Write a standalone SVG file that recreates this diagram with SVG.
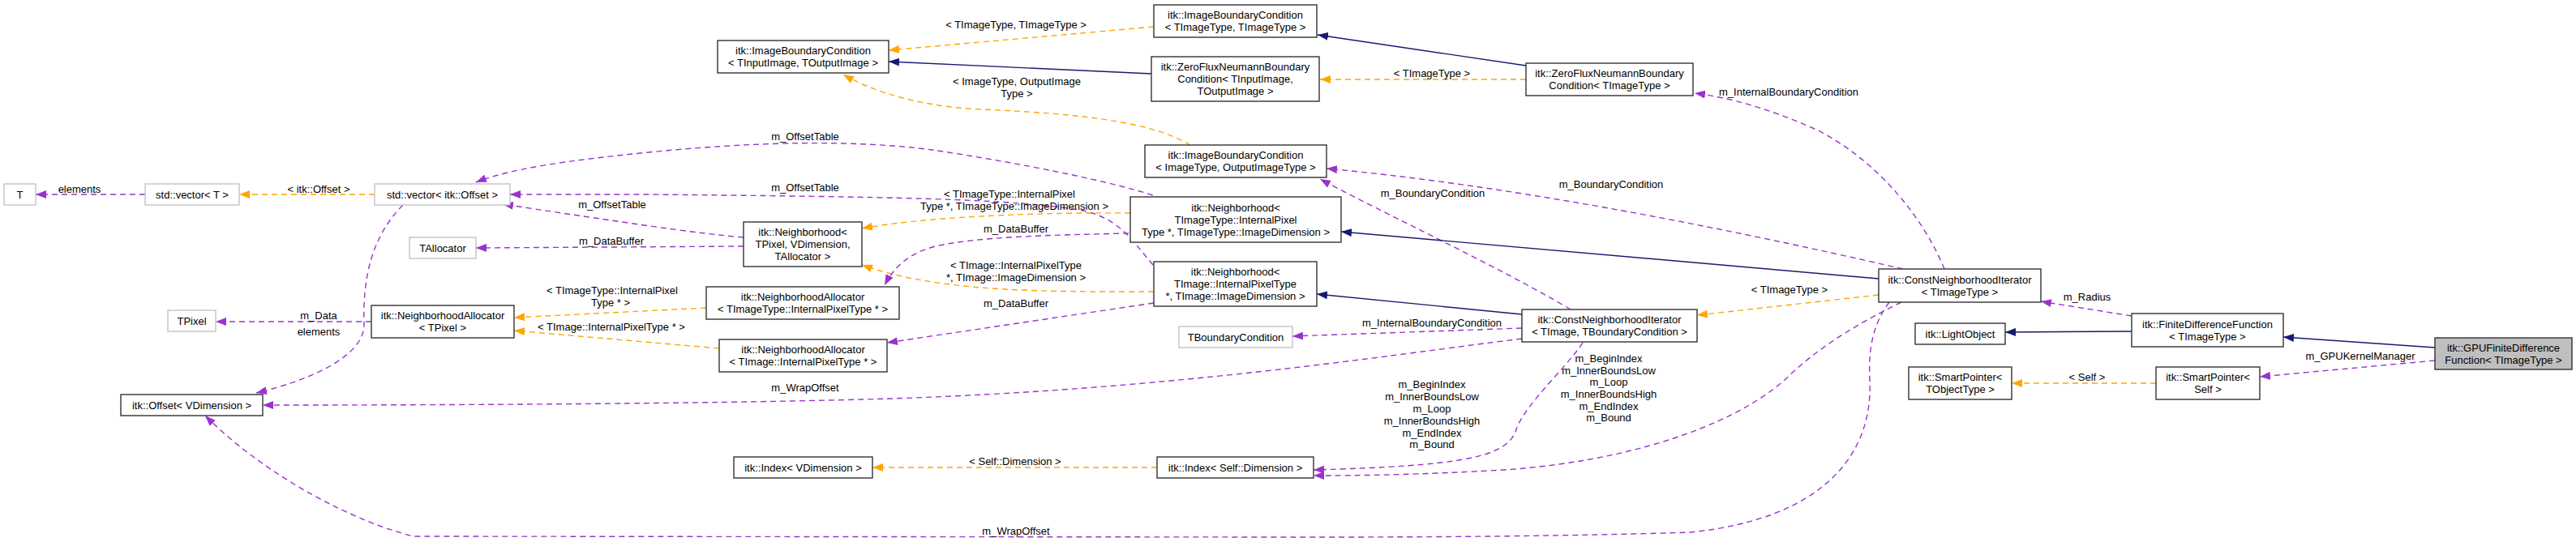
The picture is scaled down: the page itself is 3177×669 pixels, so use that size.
<svg xmlns="http://www.w3.org/2000/svg" width="3177" height="669" viewBox="0 0 3177 669">
<style>
text{font-family:"Liberation Sans",Arial,Helvetica,sans-serif;font-size:13px;fill:#000;text-anchor:middle}
.nb{fill:#fff;stroke:#333;stroke-width:1.4}
.ng{fill:#fff;stroke:#bfbfbf;stroke-width:1.3}
.nf{fill:#bfbfbf;stroke:#333;stroke-width:1.4}
.u{fill:none;stroke:#9a32cd;stroke-width:1.4;stroke-dasharray:7,5;marker-end:url(#ap)}
.t{fill:none;stroke:#ffa500;stroke-width:1.4;stroke-dasharray:7,5;marker-end:url(#ao)}
.i{fill:none;stroke:#191970;stroke-width:1.4;marker-end:url(#ab)}
</style>
<defs>
<marker id="ap" markerUnits="userSpaceOnUse" viewBox="0 0 13 10" refX="13" refY="5" markerWidth="13" markerHeight="10" orient="auto"><path d="M0,0 L13,5 L0,10 z" fill="#9a32cd"/></marker>
<marker id="ao" markerUnits="userSpaceOnUse" viewBox="0 0 13 10" refX="13" refY="5" markerWidth="13" markerHeight="10" orient="auto"><path d="M0,0 L13,5 L0,10 z" fill="#ffa500"/></marker>
<marker id="ab" markerUnits="userSpaceOnUse" viewBox="0 0 13 10" refX="13" refY="5" markerWidth="13" markerHeight="10" orient="auto"><path d="M0,0 L13,5 L0,10 z" fill="#191970"/></marker>
</defs>
<rect width="3177" height="669" fill="#fff"/>
<g id="connectors">
<path class="t" d="M1423,33 L1096,62"/>
<path class="i" d="M1420,91 L1096,76"/>
<path class="t" d="M1468,179 C1420,150 1330,140 1210,135 C1140,132 1080,115 1040,92"/>
<path class="i" d="M1882,81 L1625,43"/>
<path class="t" d="M1882,98 L1628,98"/>
<path class="u" d="M2398,332 C2375,275 2320,200 2240,160 C2180,133 2130,120 2090,115"/>
<path class="u" d="M2347,332 C2100,275 1850,228 1636,208"/>
<path class="u" d="M1937,382 C1850,330 1700,260 1628,221"/>
<path class="i" d="M2317,344 L1654,286"/>
<path class="i" d="M1877,388 L1624,363"/>
<path class="t" d="M2317,364 L2093,389"/>
<path class="u" d="M1877,405 L1594,415"/>
<path class="u" d="M1877,418 C1700,440 1450,480 1100,492 C900,498 600,500 324,500"/>
<path class="u" d="M2330,373 C2310,400 2304,430 2306,470 C2310,560 2250,640 2085,657 C1900,663 1700,663 1600,663 L510,662 C440,645 330,590 253,513"/>
<path class="t" d="M1427,577 L1076,577"/>
<path class="u" d="M2345,373 C2290,400 2240,430 2200,470 C2130,530 2000,570 1855,580 C1750,586 1680,587 1620,587"/>
<path class="u" d="M1952,423 C1935,450 1880,500 1870,530 C1860,565 1800,575 1620,580"/>
<path class="u" d="M2629,390 L2517,372"/>
<path class="i" d="M2629,409 L2473,410"/>
<path class="i" d="M3003,429 L2816,416"/>
<path class="u" d="M3003,445 L2787,465"/>
<path class="t" d="M2659,473 L2481,473"/>
<path class="u" d="M179,240 L44,240"/>
<path class="t" d="M462,240 L295,240"/>
<path class="u" d="M1433,245 C1380,225 1250,200 1150,185 C1050,172 930,175 800,188 C700,198 630,208 587,225"/>
<path class="u" d="M1422,327 C1395,295 1380,270 1336,260 C1250,245 1100,243 800,240 L629,240"/>
<path class="u" d="M917,293 C850,287 780,276 620,252"/>
<path class="u" d="M917,304 L587,306"/>
<path class="t" d="M1394,263 C1300,262 1150,266 1063,282"/>
<path class="t" d="M1423,360 C1300,360 1160,362 1063,327"/>
<path class="u" d="M1392,288 C1300,290 1200,292 1150,305 C1115,315 1100,335 1091,352"/>
<path class="u" d="M1423,374 L1094,423"/>
<path class="t" d="M871,380 L634,392"/>
<path class="t" d="M887,430 L634,408"/>
<path class="u" d="M458,397 L266,397"/>
<path class="u" d="M497,253 C460,290 447,340 449,400 C450,440 380,470 316,485"/>
<text x="1253" y="34.5">&lt; TImageType, TImageType &gt;</text>
<text x="1254" y="104.5">&lt; ImageType, OutputImage</text>
<text x="1254" y="119.5">Type &gt;</text>
<text x="1766" y="94.5">&lt; TImageType &gt;</text>
<text x="2206" y="117.5">m_InternalBoundaryCondition</text>
<text x="1987" y="231.5">m_BoundaryCondition</text>
<text x="1767" y="242.5">m_BoundaryCondition</text>
<text x="2207" y="361.5">&lt; TImageType &gt;</text>
<text x="1766" y="402.5">m_InternalBoundaryCondition</text>
<text x="993" y="482.5">m_WrapOffset</text>
<text x="1253" y="659.5">m_WrapOffset</text>
<text x="1252" y="573.5">&lt; Self::Dimension &gt;</text>
<text x="2574" y="370.5">m_Radius</text>
<text x="2911" y="443.5">m_GPUKernelManager</text>
<text x="2574" y="469.5">&lt; Self &gt;</text>
<text x="98" y="237.5">elements</text>
<text x="393" y="237.5">&lt; itk::Offset &gt;</text>
<text x="993" y="172.5">m_OffsetTable</text>
<text x="993" y="235.5">m_OffsetTable</text>
<text x="755" y="256.5">m_OffsetTable</text>
<text x="754" y="301.5">m_DataBuffer</text>
<text x="1245" y="243.5">&lt; TImageType::InternalPixel</text>
<text x="1251" y="258.5">Type *, TImageType::ImageDimension &gt;</text>
<text x="1253" y="331.5">&lt; TImage::InternalPixelType</text>
<text x="1253" y="346.5">*, TImage::ImageDimension &gt;</text>
<text x="1253" y="286.5">m_DataBuffer</text>
<text x="1253" y="378.5">m_DataBuffer</text>
<text x="755" y="362.5">&lt; TImageType::InternalPixel</text>
<text x="753" y="377.5">Type * &gt;</text>
<text x="754" y="407.5">&lt; TImage::InternalPixelType * &gt;</text>
<text x="393" y="393.5">m_Data</text>
<text x="393" y="413.5">elements</text>
<text x="1984" y="446.5">m_BeginIndex</text>
<text x="1984" y="461.5">m_InnerBoundsLow</text>
<text x="1984" y="475.5">m_Loop</text>
<text x="1984" y="490.5">m_InnerBoundsHigh</text>
<text x="1984" y="505.5">m_EndIndex</text>
<text x="1984" y="519.5">m_Bound</text>
<text x="1766" y="478.5">m_BeginIndex</text>
<text x="1766" y="493.5">m_InnerBoundsLow</text>
<text x="1766" y="508.5">m_Loop</text>
<text x="1766" y="523.5">m_InnerBoundsHigh</text>
<text x="1766" y="538.5">m_EndIndex</text>
<text x="1766" y="552.5">m_Bound</text>
</g>
<g id="n1"><rect class="nb" x="885" y="50" width="211" height="40"/><text x="990.5" y="67">itk::ImageBoundaryCondition</text><text x="990.5" y="82">&lt; TInputImage, TOutputImage &gt;</text></g>
<g id="n2"><rect class="nb" x="1423" y="6" width="201" height="40"/><text x="1523.5" y="23">itk::ImageBoundaryCondition</text><text x="1523.5" y="38">&lt; TImageType, TImageType &gt;</text></g>
<g id="n3"><rect class="nb" x="1420" y="70" width="207" height="55"/><text x="1523.5" y="87">itk::ZeroFluxNeumannBoundary</text><text x="1523.5" y="102">Condition&lt; TInputImage,</text><text x="1523.5" y="117">TOutputImage &gt;</text></g>
<g id="n4"><rect class="nb" x="1412" y="179" width="224" height="40"/><text x="1524" y="196">itk::ImageBoundaryCondition</text><text x="1524" y="211">&lt; ImageType, OutputImageType &gt;</text></g>
<g id="n5"><rect class="nb" x="1882" y="78" width="206" height="40"/><text x="1985" y="95">itk::ZeroFluxNeumannBoundary</text><text x="1985" y="110">Condition&lt; TImageType &gt;</text></g>
<g id="n6"><rect class="ng" x="5" y="227" width="39" height="26"/><text x="24.5" y="244.5">T</text></g>
<g id="n7"><rect class="ng" x="179" y="227" width="116" height="26"/><text x="237" y="244.5">std::vector&lt; T &gt;</text></g>
<g id="n8"><rect class="ng" x="462" y="227" width="167" height="26"/><text x="545.5" y="244.5">std::vector&lt; itk::Offset &gt;</text></g>
<g id="n9"><rect class="ng" x="505" y="293" width="82" height="26"/><text x="546" y="310.5">TAllocator</text></g>
<g id="n10"><rect class="ng" x="207" y="383" width="59" height="26"/><text x="236.5" y="400.5">TPixel</text></g>
<g id="n11"><rect class="nb" x="458" y="377" width="176" height="40"/><text x="546" y="394">itk::NeighborhoodAllocator</text><text x="546" y="409">&lt; TPixel &gt;</text></g>
<g id="n12"><rect class="nb" x="917" y="274" width="146" height="55"/><text x="990" y="291">itk::Neighborhood&lt;</text><text x="990" y="306">TPixel, VDimension,</text><text x="990" y="321">TAllocator &gt;</text></g>
<g id="n13"><rect class="nb" x="1394" y="243" width="260" height="56"/><text x="1524" y="260.5">itk::Neighborhood&lt;</text><text x="1524" y="275.5">TImageType::InternalPixel</text><text x="1524" y="290.5">Type *, TImageType::ImageDimension &gt;</text></g>
<g id="n14"><rect class="nb" x="1423" y="323" width="201" height="55"/><text x="1523.5" y="340">itk::Neighborhood&lt;</text><text x="1523.5" y="355">TImage::InternalPixelType</text><text x="1523.5" y="370">*, TImage::ImageDimension &gt;</text></g>
<g id="n15"><rect class="nb" x="871" y="354" width="238" height="40"/><text x="990" y="371">itk::NeighborhoodAllocator</text><text x="990" y="386">&lt; TImageType::InternalPixelType * &gt;</text></g>
<g id="n16"><rect class="nb" x="887" y="419" width="207" height="40"/><text x="990.5" y="436">itk::NeighborhoodAllocator</text><text x="990.5" y="451">&lt; TImage::InternalPixelType * &gt;</text></g>
<g id="n17"><rect class="ng" x="1454" y="403" width="140" height="26"/><text x="1524" y="420.5">TBoundaryCondition</text></g>
<g id="n18"><rect class="nb" x="1877" y="382" width="216" height="40"/><text x="1985" y="399">itk::ConstNeighborhoodIterator</text><text x="1985" y="414">&lt; TImage, TBoundaryCondition &gt;</text></g>
<g id="n19"><rect class="nb" x="2317" y="332" width="200" height="41"/><text x="2417" y="349.5">itk::ConstNeighborhoodIterator</text><text x="2417" y="364.5">&lt; TImageType &gt;</text></g>
<g id="n20"><rect class="nb" x="2362" y="399" width="111" height="26"/><text x="2417.5" y="416.5">itk::LightObject</text></g>
<g id="n21"><rect class="nb" x="2629" y="387" width="187" height="41"/><text x="2722.5" y="404.5">itk::FiniteDifferenceFunction</text><text x="2722.5" y="419.5">&lt; TImageType &gt;</text></g>
<g id="n22"><rect class="nf" x="3003" y="417" width="169" height="39"/><text x="3087.5" y="434">itk::GPUFiniteDifference</text><text x="3087.5" y="449">Function&lt; TImageType &gt;</text></g>
<g id="n23"><rect class="nb" x="2659" y="453" width="128" height="40"/><text x="2723" y="470">itk::SmartPointer&lt;</text><text x="2723" y="485">Self &gt;</text></g>
<g id="n24"><rect class="nb" x="2354" y="453" width="127" height="40"/><text x="2417.5" y="470">itk::SmartPointer&lt;</text><text x="2417.5" y="485">TObjectType &gt;</text></g>
<g id="n25"><rect class="nb" x="149" y="487" width="175" height="26"/><text x="236.5" y="504.5">itk::Offset&lt; VDimension &gt;</text></g>
<g id="n26"><rect class="nb" x="905" y="564" width="171" height="26"/><text x="990.5" y="581.5">itk::Index&lt; VDimension &gt;</text></g>
<g id="n27"><rect class="nb" x="1427" y="564" width="193" height="26"/><text x="1523.5" y="581.5">itk::Index&lt; Self::Dimension &gt;</text></g>
</svg>
